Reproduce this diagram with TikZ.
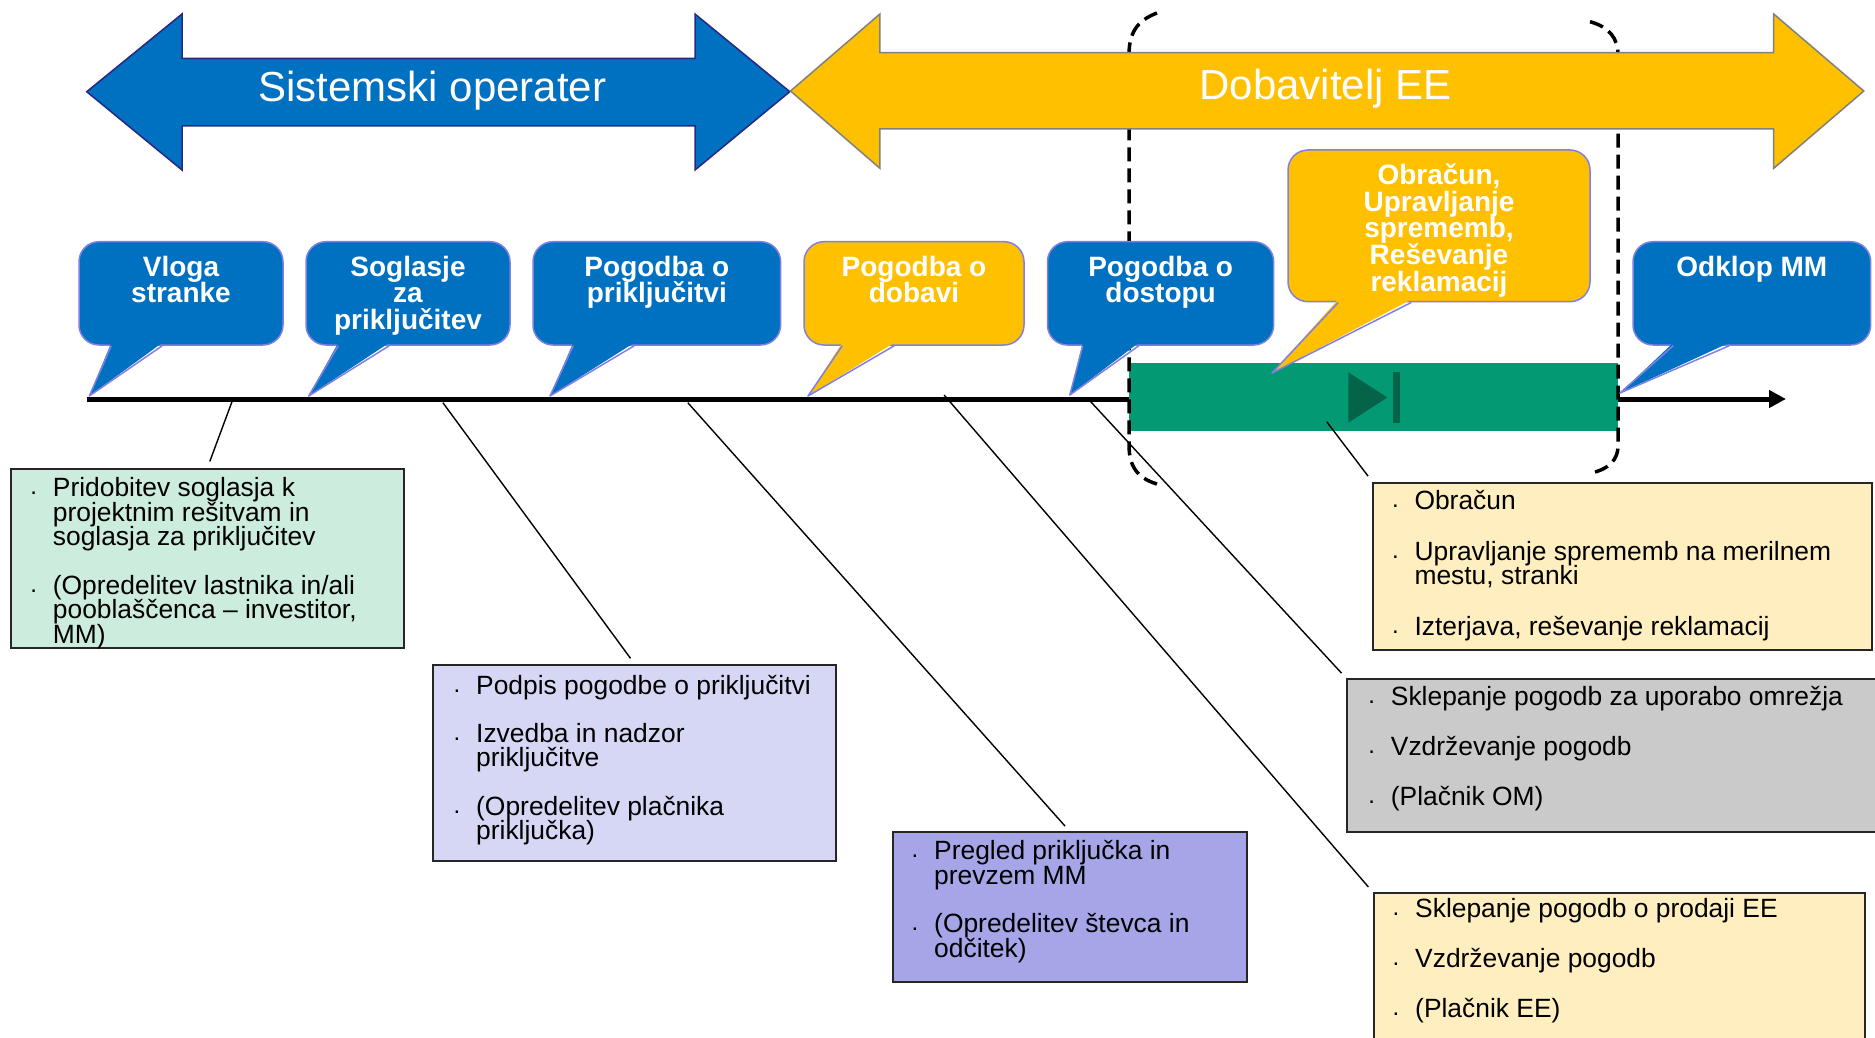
\documentclass[tikz,border=0pt]{standalone}
\usepackage{fontspec}
\setmainfont{Liberation Sans}
\usetikzlibrary{arrows.meta,fit,positioning}

\definecolor{opblue}{RGB}{0,112,192}
\definecolor{eeyellow}{RGB}{255,192,0}
\definecolor{bubbleline}{RGB}{128,128,228}
\definecolor{navyline}{RGB}{40,40,130}
\definecolor{termgreen}{RGB}{3,153,114}
\definecolor{icongreen}{RGB}{4,99,72}
\definecolor{mintfill}{RGB}{204,236,222}
\definecolor{lilacfill}{RGB}{214,214,245}
\definecolor{violetfill}{RGB}{165,165,232}
\definecolor{creamfill}{RGB}{255,239,192}
\definecolor{greyfill}{RGB}{202,202,202}

\lineskiplimit=-50pt
\newcommand\bul{\rule{0pt}{20pt}\makebox[22.5pt][l]{\raisebox{2pt}{\fontsize{24}{24}\selectfont.}}}
\newcommand\ind{\hspace*{22.5pt}}
\newcommand\bubble[8]{%
  \node[bubble, fill=#2, fit={#3 #4}] (#1) {};
  \fill[#2] ([xshift=#5pt,yshift=3pt]#1.south west) -- #7 -- ([xshift=#6pt,yshift=3pt]#1.south west) -- cycle;
  \draw[bubbleedge] ([xshift=#5pt]#1.south west) -- #7 -- ([xshift=#6pt]#1.south west);
  \node[bubbletext, below=14pt of #1.north] (#1-t) {\rule{0pt}{21pt}#8};
}

\begin{document}
\begin{tikzpicture}[x=1pt, y=-1pt,
  bubble/.style={draw=bubbleline, line width=1.5pt, rounded corners=20pt, inner sep=0pt},
  bubbleedge/.style={draw=bubbleline, line width=1.5pt, line join=round},
  bubbletext/.style={text=white, align=center, inner sep=0pt,
    font=\bfseries\fontsize{28}{26.7}\selectfont},
  banner/.style={text=white, anchor=base, inner sep=0pt, font=\fontsize{42}{42}\selectfont},
  infobox/.style={draw=black!85, line width=2pt, inner sep=0pt},
  infotext/.style={anchor=north west, inner sep=0pt, align=left,
    font=\fontsize{26.4}{24.5}\selectfont},
  link/.style={line width=1.4pt, shorten >=7pt}]
\useasboundingbox (0,0) rectangle (1875,1038);
\fill[white] (0,0) rectangle (1875,1038);

\coordinate (t0) at (87,399);
\coordinate (tend) at (1786,399);
\draw[line width=5pt, -{Triangle[length=17pt,width=17pt]}] (t0) -- (tend);
\node[fill=termgreen, inner sep=0pt, fit={(1129,363.3) (1618,431)}] (term) {};
\fill[icongreen] (1348.3,372.3) -- (1387.3,397.5) -- (1348.3,422.7) -- cycle;
\fill[icongreen] (1393.3,372.3) rectangle (1400,422.7);

\draw[line width=3.5pt, dash pattern=on 14pt off 7pt]
  (1157,13) .. controls (1136,21) and (1129,34) .. (1129,55) -- (1129,445)
  .. controls (1129,466) and (1137,478) .. (1157,484);
\draw[line width=3.5pt, dash pattern=on 14pt off 7pt]
  (1590,21.7) .. controls (1609,27) and (1618,38) .. (1618,55) -- (1618,446)
  .. controls (1618,459) and (1610,469) .. (1590,473.3);

\draw[fill=opblue, draw=navyline, line width=1.5pt]
  (86.7,91.7) -- (182,14) -- (182,58.3) -- (695,58.3) -- (695,14) -- (789.8,91.7)
  -- (695,170) -- (695,126) -- (182,126) -- (182,170) -- cycle;
\draw[fill=eeyellow, draw=gray, line width=1.5pt]
  (790.5,91) -- (879.9,14) -- (879.9,52.7) -- (1773.7,52.7) -- (1773.7,14) -- (1863.8,91)
  -- (1773.7,168.3) -- (1773.7,129) -- (879.9,129) -- (879.9,168.3) -- cycle;
\node[banner] (sysop) at (432.4,101.7) {Sistemski operater};
\node[banner] (supplier) at (1325.4,100) {Dobavitelj EE};

\bubble{vloga}{opblue}{(79,241.7)}{(283,345)}{33}{84}{(89.3,396)}{Vloga\\stranke}
\bubble{soglasje}{opblue}{(306,241.7)}{(510,345)}{33}{84}{(308.7,396)}{Soglasje\\za\\priključitev}
\bubble{prikljucitev}{opblue}{(533,241.7)}{(780.6,345)}{41}{102}{(550,396)}{Pogodba o\\priključitvi}
\bubble{dobava}{eeyellow}{(804,241.7)}{(1024,345)}{39}{91}{(808,396)}{Pogodba o\\dobavi}
\bubble{dostop}{opblue}{(1047.5,241.7)}{(1273.7,345)}{36}{92}{(1069.8,395)}{Pogodba o\\dostopu}
\bubble{obrbubble}{eeyellow}{(1288,150)}{(1590,301.7)}{51}{124}{(1272,373)}{Obračun,\\Upravljanje\\sprememb,\\Reševanje\\reklamacij}
\bubble{odklop}{opblue}{(1633,241.7)}{(1870.7,345)}{41}{97}{(1620,393)}{Odklop MM}

\node[infobox, fill=mintfill, fit={(10.7,469) (404,648.3)}] (pridobitev) {};
\node[infotext] (pridobitev-t) at (30.2,476.7) {\bul Pridobitev soglasja k\\ \ind projektnim rešitvam in\\ \ind soglasja za priključitev\\[24pt]
  \bul (Opredelitev lastnika in/ali\\ \ind pooblaščenca – investitor,\\ \ind MM)};
\node[infobox, fill=lilacfill, fit={(433.3,665) (836,860.7)}] (podpis) {};
\node[infotext] (podpis-t) at (453.5,674.3) {\bul Podpis pogodbe o priključitvi\\[23pt]
  \bul Izvedba in nadzor\\ \ind priključitve\\[24pt]
  \bul (Opredelitev plačnika\\ \ind priključka)};
\node[infobox, fill=violetfill, fit={(892.7,832.3) (1246.7,982.3)}] (pregled) {};
\node[infotext] (pregled-t) at (911.5,839.3) {\bul Pregled priključka in\\ \ind prevzem MM\\[24pt]
  \bul (Opredelitev števca in\\ \ind odčitek)};
\node[infobox, fill=creamfill, fit={(1373.3,482.7) (1871.7,650)}] (obracun) {};
\node[infotext] (obracun-t) at (1391.8,489.3) {\bul Obračun\\[26pt]
  \bul Upravljanje sprememb na merilnem\\ \ind mestu, stranki\\[26pt]
  \bul Izterjava, reševanje reklamacij};
\node[infobox, fill=greyfill, fit={(1347.3,679.3) (1885,831.7)}] (sklepanje) {};
\node[infotext] (sklepanje-t) at (1368.2,685) {\bul Sklepanje pogodb za uporabo omrežja\\[25.5pt]
  \bul Vzdrževanje pogodb\\[25.5pt]
  \bul (Plačnik OM)};
\node[infobox, fill=creamfill, fit={(1374,893.3) (1865,1050)}] (prodaja) {};
\node[infotext] (prodaja-t) at (1392.5,897) {\bul Sklepanje pogodb o prodaji EE\\[25.5pt]
  \bul Vzdrževanje pogodb\\[25.5pt]
  \bul (Plačnik EE)};

\coordinate (c1) at (232,401.7);
\coordinate (c2) at (442.9,402.7);
\coordinate (c3) at (687.8,402.7);
\coordinate (c4) at (944.1,395);
\coordinate (c5) at (1090.7,401.7);
\coordinate (c6) at (1326.7,421.7);
\draw[link] (c1) -- (pridobitev.north);
\draw[link] (c2) -- (podpis.north);
\draw[link] (c3) -- (pregled.north);
\draw[link] (c4) -- (prodaja.north west);
\draw[link] (c5) -- (sklepanje.north west);
\draw[link] (c6) -- (obracun.north west);
\end{tikzpicture}
\end{document}
